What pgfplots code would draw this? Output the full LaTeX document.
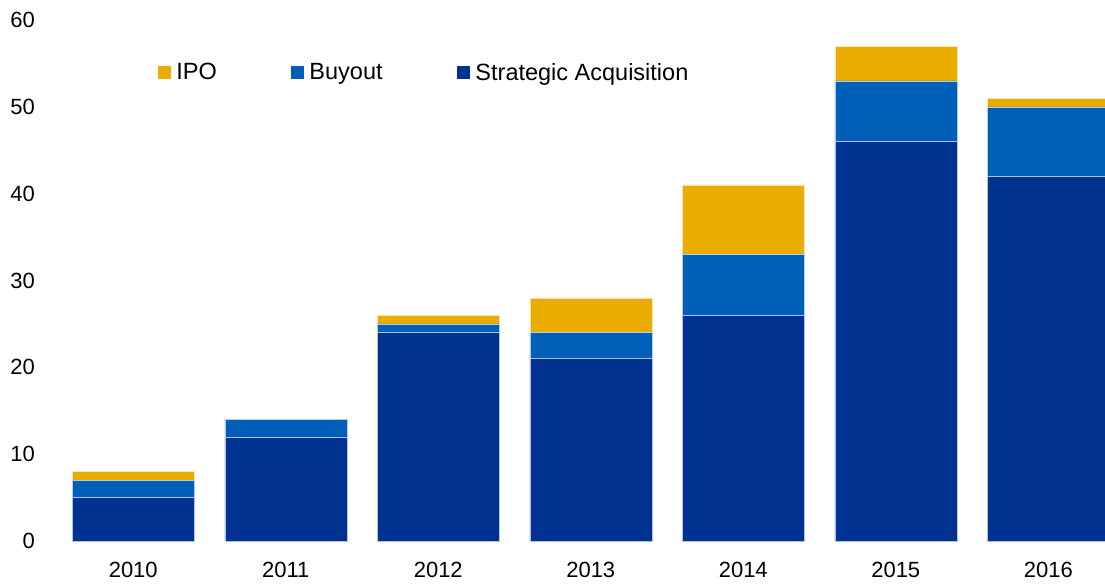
\documentclass[border=0pt]{standalone}
\usepackage{fontspec}
\setmainfont{Liberation Sans}
\usepackage{pgfplots}
\pgfplotsset{compat=1.18}
\definecolor{ipo}{RGB}{235,172,0}
\definecolor{buy}{RGB}{0,96,185}
\definecolor{sa}{RGB}{0,50,145}
\begin{document}
\begin{tikzpicture}
\begin{axis}[
  name=ax,
  scale only axis,
  width=1048pt, height=521pt,
  ybar stacked, bar width=0.8,
  xmin=-0.5, xmax=6.372,
  ymin=0, ymax=60,
  ytick={0,10,...,60},
  xtick={0,...,6},
  xticklabels={2010,2011,2012,2013,2014,2015,2016},
  axis line style={draw=none},
  tick style={draw=none},
  font=\fontsize{22}{26}\selectfont,
  /pgf/number format/assume math mode=true,
  /pgf/number format/1000 sep={},
  yticklabel style={inner sep=0pt, xshift=-22pt},
  xticklabel style={inner sep=0pt, yshift=-21pt},
  legend columns=3,
  legend style={draw=none, fill=none, inner sep=0pt, column sep=0pt,
    nodes={inner sep=0pt},
    at={(axis cs:0.164,53.96)}, anchor=west,
    font=\fontsize{23.5}{27}\selectfont},
  legend image code/.code={\fill[#1, draw=none] (0pt,-6.5pt) rectangle (13pt,6.5pt); \path[draw=none, fill=none] (0pt,0pt) -- (18pt,0pt);},
  legend cell align=left,
  reverse legend,
]
\addplot[fill=sa, draw=white!70!sa, line width=0.4pt] coordinates {(0,5) (1,12) (2,24) (3,21) (4,26) (5,46) (6,42)};
\addplot[fill=buy, draw=white!70!buy, line width=0.4pt] coordinates {(0,2) (1,2) (2,1) (3,3) (4,7) (5,7) (6,8)};
\addplot[fill=ipo, draw=white!70!ipo, line width=0.4pt] coordinates {(0,1) (1,0) (2,1) (3,4) (4,8) (5,4) (6,1)};
\legend{Strategic Acquisition,\makebox[148pt][l]{Buyout},\makebox[115pt][l]{IPO}}
\end{axis}
\pgfresetboundingbox
\useasboundingbox ([shift={(-57pt,-42pt)}]ax.south west) rectangle ([shift={(0pt,20pt)}]ax.north east);
\end{tikzpicture}
\end{document}
